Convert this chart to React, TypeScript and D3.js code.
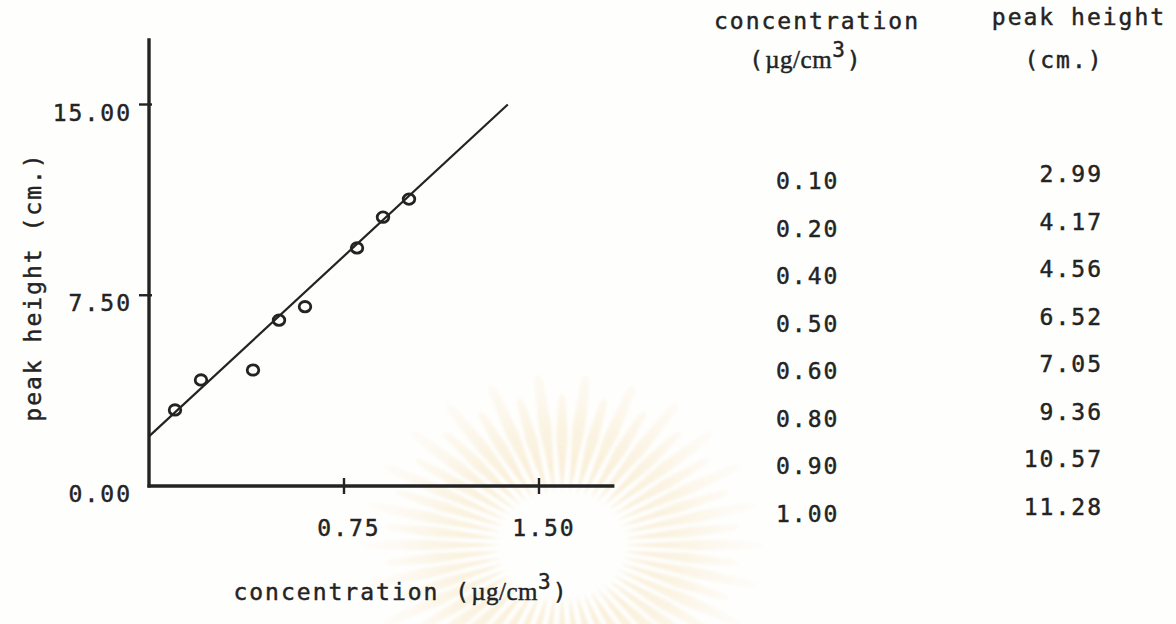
import React from "react";
import * as d3 from "d3";

// calibration data, read from the scanned page
const concentration = [0.1, 0.2, 0.4, 0.5, 0.6, 0.8, 0.9, 1.0];
const peakHeight = [2.99, 4.17, 4.56, 6.52, 7.05, 9.36, 10.57, 11.28];
const xTicks = [0.75, 1.5];
const yTicks = [0, 7.5, 15];
// hand drawn straight line: [concentration, peak height] at both ends
const fitLine: [number, number][] = [[0, 1.95], [1.38, 15.0]];
const xAxisEnd = 1.79;
const yAxisEnd = 17.6;

const W = 1176;
const H = 624;
const ink = "#232323";
const mono = "'DejaVu Sans Mono', monospace";
const serif = "'Liberation Serif', serif";
const fmt = d3.format(".2f");

function Watermark({cx, cy}: {cx: number; cy: number}) {
    let n = 52;
    let rays = d3.range(n).map(i => {
        let a = (i / n) * Math.PI * 2;
        let r0 = 52;
        let r1 = i % 2 == 0 ? 172 : 152;
        let half = 0.045;
        let rm = r0 + (r1 - r0) * 0.55;
        let p = (r: number, t: number) => [cx + 1.18 * r * Math.cos(t), cy + r * Math.sin(t)];
        let pts = [p(r0, a), p(rm, a - half), p(r1 - 6, a - half * 0.5), p(r1, a), p(r1 - 6, a + half * 0.5), p(rm, a + half)];
        return "M" + pts.map(q => q.join(",")).join("L") + "Z";
    });
    return (
        <g filter="url(#soft)">
            <defs>
                <radialGradient id="wm" cx={cx} cy={cy} r={200} gradientUnits="userSpaceOnUse">
                    <stop offset="0.25" stopColor="#f4d9a2" stopOpacity={0.5} />
                    <stop offset="0.6" stopColor="#f8e7c4" stopOpacity={0.45} />
                    <stop offset="1" stopColor="#fcf3e2" stopOpacity={0.15} />
                </radialGradient>
                <filter id="soft"><feGaussianBlur stdDeviation={1.8} /></filter>
            </defs>
            {rays.map((d, i) => <path key={i} d={d} fill="url(#wm)" />)}
        </g>
    );
}

export default function App() {
    let x = d3.scaleLinear().domain([0, 1.5]).range([149, 539]);
    let y = d3.scaleLinear().domain([0, 15]).range([486, 104.5]);
    let rowL = d3.scalePoint<number>().domain(d3.range(concentration.length)).range([189, 522]);
    let rowR = d3.scalePoint<number>().domain(d3.range(peakHeight.length)).range([182, 515]);
    let line = d3.line<[number, number]>().x(d => x(d[0])).y(d => y(d[1]));

    let txt = {fontFamily: mono, fontSize: 23, letterSpacing: 2, fill: ink, stroke: ink, strokeWidth: 0.45};

    return (
        <svg width={W} height={H} style={{position: "absolute", left: 0, top: 0, background: "#fefefd"}}>
            <Watermark cx={562} cy={545} />

            {/* axes */}
            <line x1={x(0)} x2={x(0)} y1={y(0) + 1.5} y2={y(yAxisEnd)} stroke={ink} strokeWidth={3.4} />
            <line x1={x(0) - 1.5} x2={x(xAxisEnd)} y1={y(0)} y2={y(0)} stroke={ink} strokeWidth={3.4} />
            {yTicks.filter(t => t > 0).map(t =>
                <line key={t} x1={x(0) - 10} x2={x(0) + 3} y1={y(t)} y2={y(t)} stroke={ink} strokeWidth={2.4} />
            )}
            {xTicks.map(t =>
                <line key={t} x1={x(t)} x2={x(t)} y1={y(0) - 8} y2={y(0) + 8} stroke={ink} strokeWidth={2.4} />
            )}
            {yTicks.map(t =>
                <text key={t} x={132} y={y(t) + 16} textAnchor="end" {...txt}>{fmt(t)}</text>
            )}
            {xTicks.map(t =>
                <text key={t} x={x(t) + 5} y={536} textAnchor="middle" {...txt}>{fmt(t)}</text>
            )}

            {/* axis titles */}
            <text transform="translate(41,287) rotate(-90)" textAnchor="middle" {...txt}>peak height (cm.)</text>
            <text x={401} y={600} textAnchor="middle" {...txt}>
                concentration (<tspan fontFamily={serif} letterSpacing={0.5} fontSize={25}>µg/cm</tspan>
                <tspan dy={-11} fontSize={21}>3</tspan><tspan dy={11}>)</tspan>
            </text>

            {/* fitted line and points */}
            <path d={line(fitLine) || ""} fill="none" stroke={ink} strokeWidth={2.2} />
            {concentration.map((c, i) =>
                <ellipse key={i} cx={x(c)} cy={y(peakHeight[i])} rx={5.8} ry={5.2} fill="none" stroke={ink} strokeWidth={2.8} />
            )}

            {/* table */}
            <text x={817} y={29} textAnchor="middle" {...txt}>concentration</text>
            <text x={806} y={68} textAnchor="middle" {...txt}>
                (<tspan fontFamily={serif} letterSpacing={0.5} fontSize={25}>µg/cm</tspan>
                <tspan dy={-11} fontSize={21}>3</tspan><tspan dy={11}>)</tspan>
            </text>
            <text x={1079} y={25} textAnchor="middle" {...txt}>peak height</text>
            <text x={1064} y={68} textAnchor="middle" {...txt}>(cm.)</text>
            {concentration.map((c, i) =>
                <text key={i} x={776} y={rowL(i)} {...txt}>{fmt(c)}</text>
            )}
            {peakHeight.map((p, i) =>
                <text key={i} x={1103} y={rowR(i)} textAnchor="end" {...txt}>{fmt(p)}</text>
            )}
        </svg>
    );
}
